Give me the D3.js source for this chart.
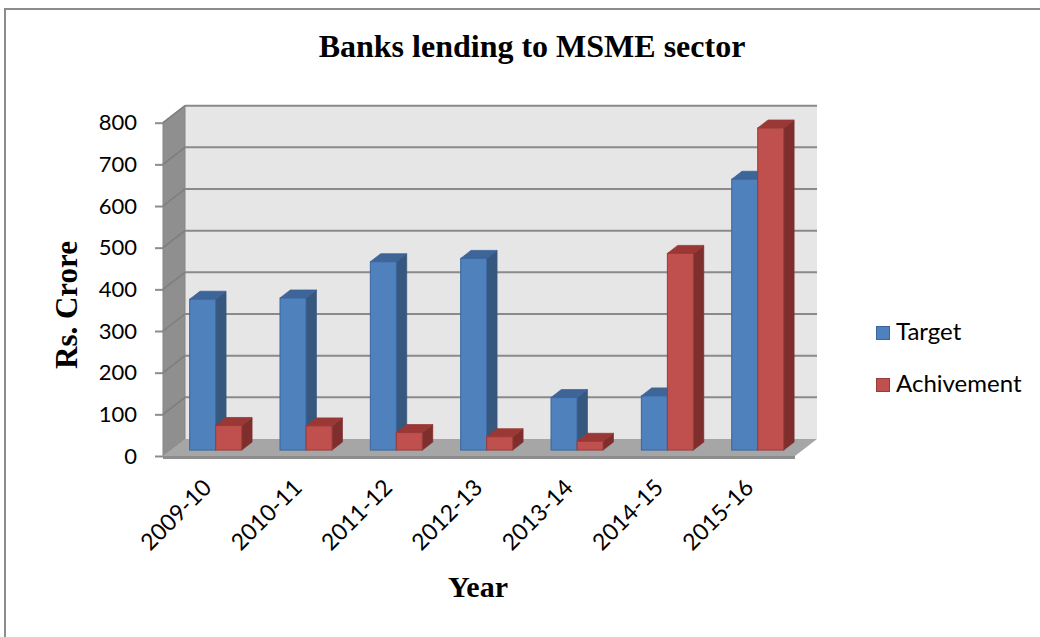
<!DOCTYPE html>
<html>
<head>
<meta charset="utf-8">
<script src="https://cdn.jsdelivr.net/npm/d3@7"></script>
<style>
  html, body { margin: 0; padding: 0; background: #ffffff; }
  svg { display: block; }
</style>
</head>
<body>
<svg id="chart" width="1040" height="637"></svg>
<script>
// Bank lending to MSME sector (Rs. Crore)
const years = ["2009-10", "2010-11", "2011-12", "2012-13", "2013-14", "2014-15", "2015-16"];
const seriesNames = ["Target", "Achivement"];
const target = [362, 365, 452, 460, 126, 130, 650];
const achievement = [59, 58, 42, 32, 21, 472, 773];
const yTicks = [0, 100, 200, 300, 400, 500, 600, 700, 800];

const svg = d3.select("#chart");

// outer frame
svg.append("rect")
  .attr("x", 5).attr("y", 9).attr("width", 1200).attr("height", 800)
  .attr("fill", "#ffffff").attr("stroke", "#8c8c8c").attr("stroke-width", 2);

// 3D box: front plane of floor and oblique depth offset
const plot = { left: 163, right: 795 };
const depth = { dx: 22, dy: -17 };
const y = d3.scaleLinear().domain([0, 800]).range([456, 122.7]);
const x = d3.scaleBand().domain(years).range([plot.left, plot.right])
  .paddingInner(0.424).paddingOuter(0.21);
const xs = d3.scaleBand().domain(seriesNames).range([0, x.bandwidth()]);

const P = (px, v, z) => [px + depth.dx * z, y(v) + depth.dy * z];
const poly = pts => "M" + pts.map(p => p.join(",")).join("L") + "Z";

const gBox = svg.append("g");
const yMax = 800;

// back wall
gBox.append("path")
  .attr("d", poly([P(plot.left, yMax, 1), P(plot.right, yMax, 1), P(plot.right, 0, 1), P(plot.left, 0, 1)]))
  .attr("fill", "#e6e6e6");

// left side wall
gBox.append("path")
  .attr("d", poly([P(plot.left, yMax, 0), P(plot.left, yMax, 1), P(plot.left, 0, 1), P(plot.left, 0, 0)]))
  .attr("fill", "#8f8f8f").attr("stroke", "#858585").attr("stroke-width", 1);

// floor
gBox.append("path")
  .attr("d", poly([P(plot.left, 0, 0), P(plot.right, 0, 0), P(plot.right, 0, 1), P(plot.left, 0, 1)]))
  .attr("fill", "#a6a6a6");
gBox.append("path")
  .attr("d", poly([P(plot.left, 0, 0), P(plot.right, 0, 0), [P(plot.right, 0, 0)[0], P(plot.right, 0, 0)[1] + 3], [P(plot.left, 0, 0)[0], P(plot.left, 0, 0)[1] + 3]]))
  .attr("fill", "#8c8c8c");

// gridlines on back wall and side wall
yTicks.filter(v => v > 0).forEach(v => {
  const a = P(plot.left, v, 0), b = P(plot.left, v, 1), c = P(plot.right, v, 1);
  gBox.append("line").attr("x1", a[0]).attr("y1", a[1]).attr("x2", b[0]).attr("y2", b[1])
    .attr("stroke", "#7d7d7d").attr("stroke-width", 1.5);
  gBox.append("line").attr("x1", b[0]).attr("y1", b[1]).attr("x2", c[0]).attr("y2", c[1])
    .attr("stroke", "#8a8a8a").attr("stroke-width", 2);
});

// y axis (front edge of side wall)
const yAxis = d3.axisLeft(y).tickValues(yTicks).tickSize(8).tickPadding(18).tickFormat(d3.format("d"));
const gy = svg.append("g").attr("transform", `translate(${plot.left},0)`).call(yAxis);
gy.select(".domain").remove();
gy.selectAll(".tick line").attr("stroke", "#8c8c8c").attr("stroke-width", 2);
gy.selectAll(".tick text")
  .attr("font-family", "Lato, 'Open Sans', sans-serif")
  .attr("font-size", 22).attr("fill", "#000");

// bars
const colors = {
  Target: { front: "#4f81bd", side: "#36587f", top: "#3d6598", stroke: "#3a65a0" },
  Achivement: { front: "#c0504d", side: "#7e2f2d", top: "#9a3835", stroke: "#9b3b39" }
};
const zF = 0.35, zB = 0.82;
const rows = years.map((yr, i) => ({ year: yr, Target: target[i], Achivement: achievement[i] }));
const gBars = svg.append("g");
rows.forEach(r => {
  seriesNames.forEach(s => {
    const v = r[s];
    const x0 = x(r.year) + xs(s), x1 = x0 + xs.bandwidth();
    const c = colors[s];
    const g = gBars.append("g");
    // side face
    g.append("path")
      .attr("d", poly([P(x1, v, zF), P(x1, v, zB), P(x1, 0, zB), P(x1, 0, zF)]))
      .attr("fill", c.side).attr("stroke", c.side).attr("stroke-width", 0.8);
    // top face
    g.append("path")
      .attr("d", poly([P(x0, v, zF), P(x1, v, zF), P(x1, v, zB), P(x0, v, zB)]))
      .attr("fill", c.top).attr("stroke", c.top).attr("stroke-width", 0.8);
    // front face
    const f0 = P(x0, v, zF), f1 = P(x1, 0, zF);
    g.append("rect")
      .attr("x", f0[0]).attr("y", f0[1])
      .attr("width", f1[0] - f0[0]).attr("height", f1[1] - f0[1])
      .attr("fill", c.front).attr("stroke", c.stroke).attr("stroke-width", 1);
  });
});

// x axis labels, rotated
const gx = svg.append("g");
years.forEach(yr => {
  const cx = x(yr) + x.bandwidth() / 2;
  gx.append("text")
    .attr("transform", `translate(${cx + 5},489) rotate(-45)`)
    .attr("text-anchor", "end")
    .attr("font-family", "Lato, 'Open Sans', sans-serif")
    .attr("font-size", 23).attr("fill", "#000")
    .text(yr);
});

// titles
svg.append("text")
  .attr("x", 532).attr("y", 57).attr("text-anchor", "middle")
  .attr("font-family", "'Liberation Serif', 'Times New Roman', serif")
  .attr("font-weight", "bold").attr("font-size", 32).attr("fill", "#000")
  .text("Banks lending to MSME sector");

svg.append("text")
  .attr("x", 478).attr("y", 597).attr("text-anchor", "middle")
  .attr("font-family", "'Liberation Serif', 'Times New Roman', serif")
  .attr("font-weight", "bold").attr("font-size", 30).attr("fill", "#000")
  .text("Year");

svg.append("text")
  .attr("transform", "translate(77,305) rotate(-90)")
  .attr("text-anchor", "middle")
  .attr("font-family", "'Liberation Serif', 'Times New Roman', serif")
  .attr("font-weight", "bold").attr("font-size", 31).attr("fill", "#000")
  .text("Rs. Crore");

// legend
const legend = svg.append("g").attr("transform", "translate(876,326)");
seriesNames.forEach((s, i) => {
  const g = legend.append("g").attr("transform", `translate(0,${i * 52})`);
  g.append("rect").attr("x", 0.5).attr("y", 0.5).attr("width", 13).attr("height", 13)
    .attr("fill", colors[s].front).attr("stroke", colors[s].stroke).attr("stroke-width", 1);
  g.append("text").attr("x", 20).attr("y", 14)
    .attr("font-family", "Lato, 'Open Sans', sans-serif")
    .attr("font-size", 24).attr("fill", "#000")
    .text(s);
});
</script>
</body>
</html>
